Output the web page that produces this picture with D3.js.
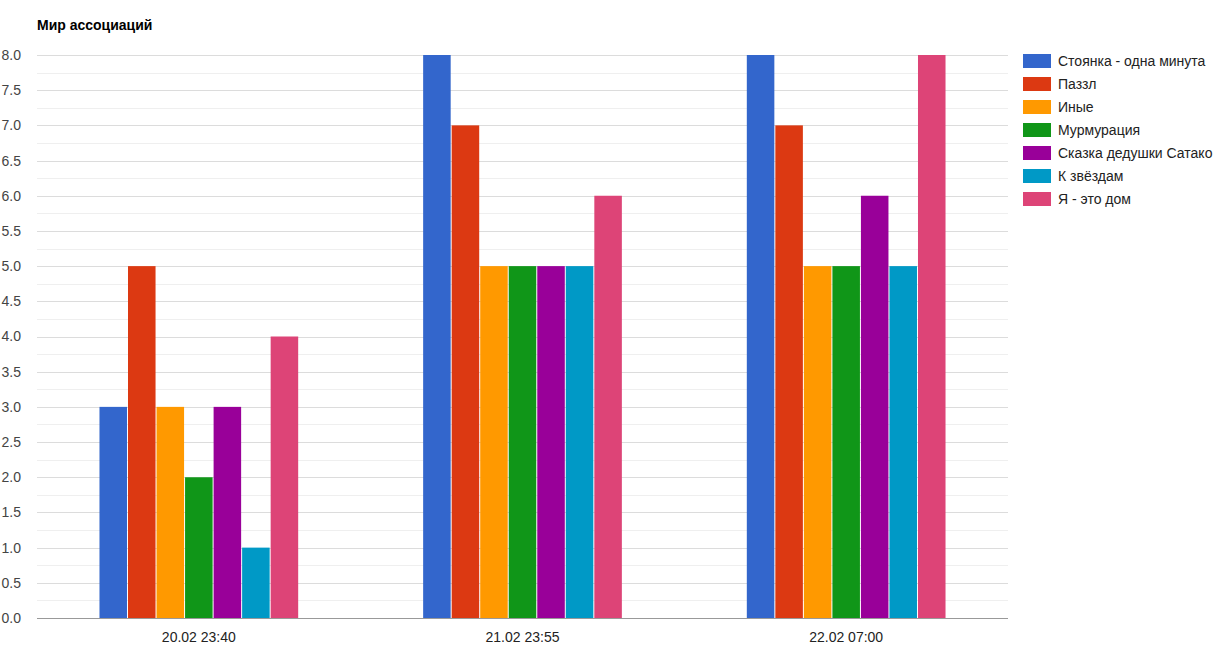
<!DOCTYPE html>
<html>
<head>
<meta charset="utf-8">
<script src="https://cdn.jsdelivr.net/npm/d3@7"></script>
<style>
  body { margin: 0; background: #fff; }
  text { font-family: Arial, "Liberation Sans", sans-serif; }
</style>
</head>
<body>
<svg id="drawing_region"></svg>
<script>
const groups = ["20.02 23:40", "21.02 23:55", "22.02 07:00"];
const series = ["Стоянка - одна минута", "Паззл", "Иные", "Мурмурация",
                "Сказка дедушки Сатако", "К звёздам", "Я - это дом"];
const colors = ["#3366cc", "#dc3912", "#ff9900", "#109618", "#990099", "#0099c6", "#dd4477"];
// values[series][group]
const values = [
    [3, 8, 8],
    [5, 7, 7],
    [3, 5, 5],
    [2, 5, 5],
    [3, 5, 6],
    [1, 5, 5],
    [4, 6, 8]
];
const yTicks = d3.range(0, 8.01, 0.5);
const yMinor = d3.range(0.25, 8, 0.5);

const width = 1222, height = 653;
const margin = { top: 55, right: 214, bottom: 35, left: 37 };

const svg = d3.select('#drawing_region')
    .attr('width', width)
    .attr('height', height);

svg.append('text')
    .attr('x', 37)
    .attr('y', 30)
    .attr('font-size', 14)
    .attr('font-weight', 'bold')
    .attr('fill', '#000')
    .text('Мир ассоциаций');

const x0 = d3.scaleBand()
    .domain(groups)
    .range([margin.left, width - margin.right])
    .padding(0);

const x1 = d3.scaleBand()
    .domain(series)
    .range([0, x0.bandwidth()])
    .paddingInner(0.035)
    .paddingOuter(2.19);

const yscale = d3.scaleLinear()
    .domain([0, 8])
    .range([height - margin.bottom, margin.top]);

// minor grid
svg.append('g')
    .selectAll('line')
    .data(yMinor)
    .join('line')
    .attr('x1', margin.left).attr('x2', width - margin.right)
    .attr('y1', d => Math.round(yscale(d)) + 0.5)
    .attr('y2', d => Math.round(yscale(d)) + 0.5)
    .attr('stroke', '#efefef');

// major grid
svg.append('g')
    .selectAll('line')
    .data(yTicks.filter(d => d > 0))
    .join('line')
    .attr('x1', margin.left).attr('x2', width - margin.right)
    .attr('y1', d => Math.round(yscale(d)) + 0.5)
    .attr('y2', d => Math.round(yscale(d)) + 0.5)
    .attr('stroke', '#dcdcdc');

// y labels
const yaxis = d3.axisLeft(yscale)
    .tickValues(yTicks)
    .tickFormat(d3.format('.1f'))
    .tickSize(0)
    .tickPadding(16);

svg.append('g')
    .attr('transform', `translate(${margin.left}, 0)`)
    .call(yaxis)
    .call(g => g.select('.domain').remove())
    .call(g => g.selectAll('text')
        .attr('font-size', 14)
        .attr('fill', '#444')
        .attr('font-family', 'Arial, "Liberation Sans", sans-serif'));

// bars
const gg = svg.append('g')
    .selectAll('g')
    .data(groups)
    .join('g')
    .attr('transform', d => `translate(${x0(d)}, 0)`);

gg.selectAll('rect')
    .data((g, gi) => series.map((s, si) => ({ s, si, v: values[si][gi] })))
    .join('rect')
    .attr('x', d => x1(d.s))
    .attr('y', d => yscale(d.v))
    .attr('width', x1.bandwidth())
    .attr('height', d => yscale(0) - yscale(d.v))
    .attr('fill', d => colors[d.si]);

// baseline
svg.append('line')
    .attr('x1', margin.left).attr('x2', width - margin.right)
    .attr('y1', Math.round(yscale(0)) + 0.5)
    .attr('y2', Math.round(yscale(0)) + 0.5)
    .attr('stroke', '#999');

// x labels
const xaxis = d3.axisBottom(x0).tickSize(0).tickPadding(14);
svg.append('g')
    .attr('transform', `translate(0, ${yscale(0)})`)
    .call(xaxis)
    .call(g => g.select('.domain').remove())
    .call(g => g.selectAll('text')
        .attr('font-size', 14)
        .attr('fill', '#222')
        .attr('font-family', 'Arial, "Liberation Sans", sans-serif'));

// legend
const legend = svg.append('g')
    .selectAll('g')
    .data(series)
    .join('g')
    .attr('transform', (d, i) => `translate(1023, ${54 + i * 23})`);

legend.append('rect')
    .attr('width', 28)
    .attr('height', 14)
    .attr('fill', (d, i) => colors[i]);

legend.append('text')
    .attr('x', 35)
    .attr('y', 12)
    .attr('font-size', 14)
    .attr('fill', '#222')
    .text(d => d);
</script>
</body>
</html>
